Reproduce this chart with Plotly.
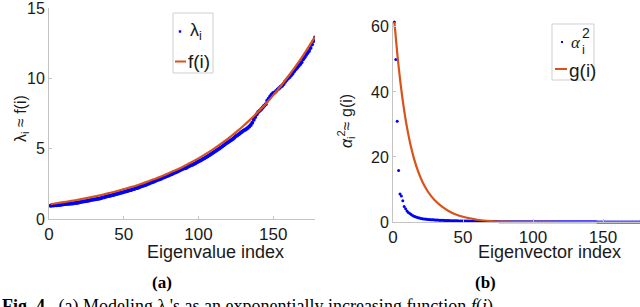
import plotly.graph_objects as go

W, H = 640, 307

# ---------------- data: panel (a) ----------------
lam_idx = list(range(1, 179))
lam_vals = [
    0.95, 0.96, 0.96, 0.97, 0.98, 0.99, 1.00, 1.01, 1.03, 1.05,
    1.06, 1.07, 1.08, 1.09, 1.10, 1.11, 1.13, 1.14, 1.16, 1.18,
    1.20, 1.22, 1.24, 1.26, 1.28, 1.30, 1.32, 1.35, 1.37, 1.39,
    1.40, 1.42, 1.44, 1.46, 1.49, 1.52, 1.55, 1.58, 1.61, 1.64,
    1.66, 1.69, 1.71, 1.74, 1.77, 1.80, 1.83, 1.86, 1.89, 1.92,
    1.95, 1.98, 2.01, 2.04, 2.07, 2.11, 2.14, 2.18, 2.21, 2.24,
    2.30, 2.33, 2.37, 2.40, 2.44, 2.49, 2.53, 2.57, 2.61, 2.65,
    2.71, 2.75, 2.79, 2.83, 2.87, 2.92, 2.96, 3.00, 3.05, 3.10,
    3.14, 3.19, 3.24, 3.29, 3.33, 3.38, 3.43, 3.48, 3.53, 3.59,
    3.60, 3.65, 3.71, 3.77, 3.82, 3.85, 3.91, 3.97, 4.03, 4.09,
    4.14, 4.20, 4.26, 4.32, 4.39, 4.45, 4.51, 4.58, 4.65, 4.72,
    4.80, 4.87, 4.94, 5.02, 5.09, 5.17, 5.25, 5.33, 5.40, 5.48,
    5.54, 5.61, 5.69, 5.78, 5.88, 5.95, 6.03, 6.11, 6.19, 6.27,
    6.32, 6.39, 6.47, 6.57, 6.69, 6.85, 7.05, 7.25, 7.45, 7.60,
    7.70, 7.80, 7.92, 8.05, 8.15, 8.40, 8.55, 8.70, 8.85, 8.95,
    9.00, 9.10, 9.20, 9.30, 9.40, 9.48, 9.60, 9.75, 9.88, 10.00,
    10.10, 10.22, 10.35, 10.50, 10.65, 10.75, 10.88, 11.00, 11.15, 11.35,
    11.50, 11.65, 11.80, 11.95, 12.15, 12.40, 12.65, 12.90,
]
f_idx = [1, 5, 10, 15, 20, 25, 30, 35, 40, 45, 50, 55, 60, 65, 70, 75, 80, 85, 90,
         95, 100, 105, 110, 115, 120, 125, 130, 135, 140, 145, 150, 155, 160, 165,
         170, 175, 178]
f_vals = [1.05, 1.12, 1.20, 1.29, 1.38, 1.48, 1.59, 1.71, 1.84, 1.97, 2.12, 2.27,
          2.44, 2.62, 2.82, 3.02, 3.25, 3.49, 3.74, 4.02, 4.31, 4.63, 4.97, 5.34,
          5.73, 6.16, 6.61, 7.10, 7.62, 8.18, 8.79, 9.44, 10.13, 10.85, 11.62,
          12.45, 12.95]

# ---------------- data: panel (b) ----------------
alpha_idx = list(range(1, 179))
alpha_vals = [
    61.5, 50.0, 31.0, 15.8, 8.6, 8.0, 6.5, 4.8, 4.1, 3.4,
    2.9, 2.6, 2.3, 2.0, 1.8, 1.6, 1.45, 1.3, 1.2, 1.1,
    1.0, 0.95, 0.9, 0.85, 0.8, 0.76, 0.72, 0.69, 0.66, 0.63,
    0.6, 0.58, 0.56, 0.54, 0.52, 0.5, 0.48, 0.46, 0.45, 0.43,
    0.42, 0.4, 0.39, 0.38, 0.36, 0.35, 0.34, 0.33, 0.32, 0.31,
    0.3, 0.29, 0.28, 0.27, 0.26, 0.25, 0.24, 0.23, 0.22, 0.21,
    0.2, 0.19, 0.18, 0.18, 0.17, 0.16, 0.16, 0.15, 0.15, 0.14,
    0.14, 0.13, 0.13, 0.12, 0.12, 0.11, 0.11, 0.1, 0.1, 0.1,
    0.09, 0.09, 0.09, 0.09, 0.09, 0.09, 0.09, 0.09, 0.09, 0.09,
    0.08, 0.08, 0.08, 0.08, 0.08, 0.08, 0.08, 0.08, 0.08, 0.08,
    0.07, 0.07, 0.07, 0.07, 0.07, 0.07, 0.07, 0.07, 0.07, 0.07,
    0.06, 0.06, 0.06, 0.06, 0.06, 0.06, 0.06, 0.06, 0.06, 0.06,
    0.05, 0.05, 0.05, 0.05, 0.05, 0.05, 0.05, 0.05, 0.05, 0.05,
    0.05, 0.05, 0.04, 0.04, 0.04, 0.04, 0.04, 0.04, 0.04, 0.04,
    0.04, 0.04, 0.04, 0.04, 0.04, 0.03, 0.03, 0.03, 0.03, 0.03,
    0.03, 0.03, 0.03, 0.03, 0.03, 0.03, 0.03, 0.03, 0.03, 0.03,
    0.02, 0.02, 0.02, 0.02, 0.02, 0.02, 0.02, 0.02, 0.02, 0.02,
    0.02, 0.02, 0.02, 0.02, 0.01, 0.01, 0.01, 0.01,
]
g_idx = [1, 3, 5, 7, 9, 11, 13, 15, 18, 21, 24, 27, 30, 35, 40, 45, 50, 55, 60,
         70, 80, 90, 100, 120, 140, 160, 178]
g_vals = [61.5, 52.0, 44.0, 37.2, 31.5, 26.8, 22.8, 19.5, 15.5, 12.4, 10.0, 8.1,
          6.6, 4.7, 3.3, 2.3, 1.6, 1.1, 0.7, 0.3, 0.12, 0.05, 0.02, 0.0, 0.0,
          0.0, 0.0]

x_ticks = [0, 50, 100, 150]
lam_yticks = [0, 5, 10, 15]
alpha_yticks = [0, 20, 40, 60]

BLUE = "#0000FF"
ORANGE = "#D95319"
AXIS = "#c4c4c4"
TXT = "#1a1a1a"
SANS = "Liberation Sans, Arial, sans-serif"
SERIF = "Liberation Serif, Times New Roman, serif"


def px(x):
    return x / W


def py(y):
    return 1 - y / H


fig = go.Figure()
fig.add_trace(go.Scatter(x=lam_idx, y=lam_vals, mode="markers", name="λi",
                         marker=dict(color=BLUE, size=4, line=dict(width=0)),
                         showlegend=False, xaxis="x", yaxis="y"))
fig.add_trace(go.Scatter(x=f_idx, y=f_vals, mode="lines", name="f(i)",
                         line=dict(color=ORANGE, width=2.2, shape="spline", smoothing=0.6),
                         showlegend=False, xaxis="x", yaxis="y"))
fig.add_trace(go.Scatter(x=alpha_idx, y=alpha_vals, mode="markers", name="αi²",
                         marker=dict(color=BLUE, size=3, line=dict(width=0)),
                         cliponaxis=False,
                         showlegend=False, xaxis="x2", yaxis="y2"))
fig.add_trace(go.Scatter(x=g_idx, y=g_vals, mode="lines", name="g(i)",
                         line=dict(color=ORANGE, width=2.2, shape="spline", smoothing=0.6),
                         showlegend=False, xaxis="x2", yaxis="y2"))

axis_common = dict(showgrid=False, zeroline=False, showline=True, linecolor=AXIS,
                   linewidth=1, ticks="inside", ticklen=3, tickcolor=AXIS,
                   tickwidth=1, automargin=False, ticklabeloverflow="allow")

fig.update_layout(
    template="none",
    width=W, height=H, autosize=False,
    margin=dict(l=0, r=0, t=0, b=0, pad=0),
    paper_bgcolor="white", plot_bgcolor="white",
    showlegend=False,
    xaxis=dict(domain=[px(49), px(315)], range=[0, 178], tickvals=x_ticks,
               tickfont=dict(family=SANS, size=17, color=TXT), anchor="y",
               **axis_common),
    yaxis=dict(domain=[py(219), py(8)], range=[0, 15], tickvals=lam_yticks,
               tickfont=dict(family=SANS, size=16, color=TXT), anchor="x",
               **axis_common),
    xaxis2=dict(domain=[px(393), 1.0], range=[0, 176.4], tickvals=x_ticks,
                tickfont=dict(family=SANS, size=17, color=TXT), anchor="y2",
                **axis_common),
    yaxis2=dict(domain=[py(222), py(22)], range=[0, 61.5], tickvals=alpha_yticks,
                tickfont=dict(family=SANS, size=16, color=TXT), anchor="x2",
                **axis_common),
)

shapes = []
ann = []

# legend (a)
shapes.append(dict(type="rect", xref="paper", yref="paper", x0=px(173), x1=px(213),
                   y0=py(73), y1=py(13), line=dict(color="#cfcfcf", width=1),
                   fillcolor="white", layer="above"))
shapes.append(dict(type="rect", xref="paper", yref="paper", x0=px(178.8), x1=px(181.2),
                   y0=py(32.7), y1=py(30.3), line=dict(width=0), fillcolor=BLUE,
                   layer="above"))
shapes.append(dict(type="line", xref="paper", yref="paper", x0=px(175), x1=px(186),
                   y0=py(61.5), y1=py(61.5), line=dict(color=ORANGE, width=2),
                   layer="above"))
ann.append(dict(text="λ<sub>i</sub>", x=px(188), y=py(31), xanchor="left",
                yanchor="middle", font=dict(family=SANS, size=18, color=TXT)))
ann.append(dict(text="f(i)", x=px(186), y=py(62), xanchor="left",
                yanchor="middle", font=dict(family=SANS, size=19, color=TXT)))

# legend (b)
shapes.append(dict(type="rect", xref="paper", yref="paper", x0=px(552), x1=px(594),
                   y0=py(80), y1=py(24), line=dict(color="#cfcfcf", width=1),
                   fillcolor="white", layer="above"))
shapes.append(dict(type="rect", xref="paper", yref="paper", x0=px(561), x1=px(563),
                   y0=py(43), y1=py(41), line=dict(width=0), fillcolor=BLUE,
                   layer="above"))
shapes.append(dict(type="line", xref="paper", yref="paper", x0=px(555), x1=px(567),
                   y0=py(69), y1=py(69), line=dict(color=ORANGE, width=2),
                   layer="above"))
ann.append(dict(text="<i>α</i>", x=px(569), y=py(42), xanchor="left",
                yanchor="middle", font=dict(family=SERIF, size=17, color=TXT)))
ann.append(dict(text="2", x=px(580), y=py(33), xanchor="left",
                yanchor="middle", font=dict(family=SANS, size=14, color=TXT)))
ann.append(dict(text="i", x=px(580), y=py(50), xanchor="left",
                yanchor="middle", font=dict(family=SANS, size=13, color=TXT)))
ann.append(dict(text="g(i)", x=px(567), y=py(70), xanchor="left",
                yanchor="middle", font=dict(family=SANS, size=19, color=TXT)))

# axis titles
ann.append(dict(text="Eigenvalue index", x=px(215), y=py(252), xanchor="center",
                yanchor="middle", font=dict(family=SANS, size=18, color=TXT)))
ann.append(dict(text="Eigenvector index", x=px(549), y=py(252), xanchor="center",
                yanchor="middle", font=dict(family=SANS, size=18, color=TXT)))
ann.append(dict(text="λ<sub>i</sub> ≈ f(i)", x=px(22), y=py(119), xanchor="center",
                yanchor="middle", textangle=-90,
                font=dict(family=SANS, size=16, color=TXT)))
ann.append(dict(text="<i>α</i><sub>i</sub><sup>2</sup>≈ g(i)", x=px(346), y=py(121),
                xanchor="center", yanchor="middle", textangle=-90,
                font=dict(family=SANS, size=16, color=TXT)))

# sub-figure labels and caption
ann.append(dict(text="<b>(a)</b>", x=px(162), y=py(282), xanchor="center",
                yanchor="middle", font=dict(family=SERIF, size=17, color="black")))
ann.append(dict(text="<b>(b)</b>", x=px(485), y=py(282), xanchor="center",
                yanchor="middle", font=dict(family=SERIF, size=17, color="black")))
ann.append(dict(text="<b>Fig. 4.</b>  (a) Modeling λ<sub>i</sub>'s as an exponentially increasing function <i>f</i>(<i>i</i>)",
                x=px(0), y=py(294), xanchor="left", yanchor="top",
                font=dict(family=SERIF, size=18, color="black")))

for a in ann:
    a.update(xref="paper", yref="paper", showarrow=False)

fig.update_layout(shapes=shapes, annotations=ann)

fig.write_html("out.html", config={"displayModeBar": False},
               post_script="document.body.style.margin='0';document.body.style.overflow='hidden';")
